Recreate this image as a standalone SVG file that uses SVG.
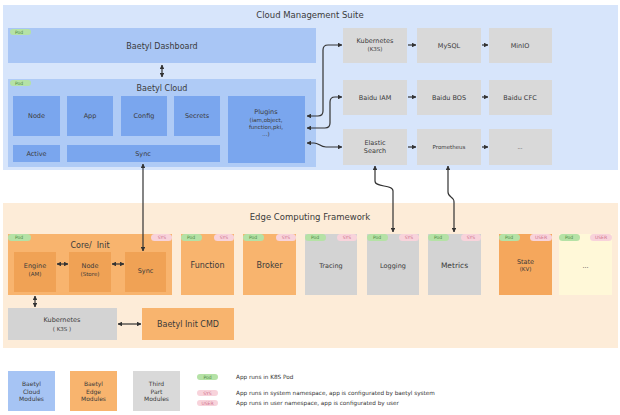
<svg xmlns="http://www.w3.org/2000/svg" width="620" height="415" viewBox="0 0 620 415">
<defs>
<marker id="ah" viewBox="0 0 10 10" refX="9" refY="5" markerWidth="4" markerHeight="4" orient="auto-start-reverse">
<path d="M0,0 L10,5 L0,10 z" fill="#333"/>
</marker>
<style>
text{font-family:"DejaVu Sans","Liberation Sans",sans-serif;fill:#3a3a3a;text-anchor:middle}
.t{font-size:8px}
.s{font-size:6.5px}
.xs{font-size:5.5px}
.cbg{fill:#d7e5fb}
.ebg{fill:#fdecd8}
.dash{fill:#a9c6f5}
.cm{fill:#7aa6ee}
.gr{fill:#d9d9d9}
.gr2{fill:#d3d3d3}
.or{fill:#f8b46e}
.or2{fill:#f0a255}
.or3{fill:#f5a75c}
.yl{fill:#fff8d8}
.pod{fill:#b5e2a6}
.sys{fill:#f8d3db}
.tp{font-size:4.5px;fill:#4f8a45}
.ts{font-size:4.5px;fill:#d0708a}
.c{fill:none;stroke:#333;stroke-width:1.2}
.lg{font-size:5.7px;text-anchor:start;fill:#333}
</style>
</defs>

<g id="cloud-suite">
<rect class="cbg" x="3" y="5" width="615" height="165"/>
<text class="t" x="310" y="18" style="font-size:8.5px">Cloud Management Suite</text>
</g>
<g id="edge-framework">
<rect class="ebg" x="3" y="203" width="615" height="145"/>
<text class="t" x="310" y="220" style="font-size:8.5px">Edge Computing Framework</text>
</g>

<g id="baetyl-dashboard">
<rect class="dash" x="8" y="28" width="308" height="35"/>
<rect class="pod" x="10" y="29" width="21" height="6" rx="3"/>
<text class="tp" x="19" y="33.8">Pod</text>
<text class="t" x="162" y="49">Baetyl Dashboard</text>
</g>

<g id="baetyl-cloud">
<rect class="dash" x="8" y="79" width="308" height="88" style="fill:#afcbf6"/>
<rect class="pod" x="10" y="80" width="21" height="6" rx="3"/>
<text class="tp" x="19" y="84.8">Pod</text>
<text class="t" x="162" y="91">Baetyl Cloud</text>
</g>
<g id="cloud-node"><rect class="cm" x="13" y="96" width="47" height="40"/><text class="s" x="36.5" y="118">Node</text></g>
<g id="cloud-app"><rect class="cm" x="67" y="96" width="46" height="40"/><text class="s" x="90" y="118">App</text></g>
<g id="cloud-config"><rect class="cm" x="121" y="96" width="46" height="40"/><text class="s" x="144" y="118">Config</text></g>
<g id="cloud-secrets"><rect class="cm" x="174" y="96" width="46" height="40"/><text class="s" x="197" y="118">Secrets</text></g>
<g id="cloud-active"><rect class="cm" x="13" y="145" width="47" height="17"/><text class="s" x="36.5" y="156">Active</text></g>
<g id="cloud-sync"><rect class="cm" x="67" y="145" width="153" height="17"/><text class="s" x="143" y="156">Sync</text></g>
<g id="cloud-plugins"><rect class="cm" x="228" y="96" width="77" height="67"/>
<text class="s" x="266" y="114">Plugins</text>
<text class="xs" x="266" y="122">(iam,object,</text>
<text class="xs" x="266" y="129">function,pki,</text>
<text class="xs" x="266" y="136">...)</text></g>

<g id="kubernetes-k3s"><rect class="gr" x="343" y="28" width="64" height="35"/><text class="s" x="375" y="43">Kubernetes</text><text class="xs" x="375" y="51">(K3S)</text></g>
<g id="mysql"><rect class="gr" x="417" y="28" width="64" height="35"/><text class="s" x="449" y="48">MySQL</text></g>
<g id="minio"><rect class="gr" x="489" y="28" width="63" height="35"/><text class="s" x="520" y="48">MinIO</text></g>
<g id="baidu-iam"><rect class="gr" x="343" y="80" width="64" height="35"/><text class="s" x="375" y="100">Baidu IAM</text></g>
<g id="baidu-bos"><rect class="gr" x="417" y="80" width="64" height="35"/><text class="s" x="449" y="100">Baidu BOS</text></g>
<g id="baidu-cfc"><rect class="gr" x="489" y="80" width="63" height="35"/><text class="s" x="520" y="100">Baidu CFC</text></g>
<g id="elastic-search"><rect class="gr" x="343" y="129" width="64" height="36"/><text class="s" x="375" y="145">Elastic</text><text class="s" x="375" y="153">Search</text></g>
<g id="prometheus"><rect class="gr" x="417" y="129" width="64" height="36"/><text class="xs" x="449" y="149">Prometheus</text></g>
<g id="cloud-more"><rect class="gr" x="489" y="129" width="63" height="36"/><text class="xs" x="520" y="149">...</text></g>

<g id="core-init">
<rect class="or" x="8" y="234" width="164" height="61"/>
<rect class="pod" x="8" y="234" width="23" height="7" rx="3.5"/><text class="tp" x="19" y="239.3">Pod</text>
<rect class="sys" x="151" y="234" width="21" height="7" rx="3.5"/><text class="ts" x="162" y="239.3">SYS</text>
<text class="t" x="90" y="248" style="white-space:pre">Core/  Init</text>
</g>
<g id="engine"><rect class="or2" x="14" y="252" width="42" height="40"/><text class="s" x="35" y="268">Engine</text><text class="xs" x="35" y="276">(AM)</text></g>
<g id="node-store"><rect class="or2" x="69" y="252" width="42" height="40"/><text class="s" x="90" y="268">Node</text><text class="xs" x="90" y="276">(Store)</text></g>
<g id="edge-sync"><rect class="or2" x="125" y="252" width="41" height="40"/><text class="s" x="145.5" y="273">Sync</text></g>

<g id="function"><rect class="or" x="181" y="234" width="53" height="61"/>
<rect class="pod" x="181" y="234" width="21" height="7" rx="3.5"/><text class="tp" x="191" y="239.3">Pod</text>
<rect class="sys" x="214" y="234" width="20" height="7" rx="3.5"/><text class="ts" x="224" y="239.3">SYS</text>
<text class="t" x="207.5" y="268">Function</text></g>
<g id="broker"><rect class="or" x="243" y="234" width="53" height="61"/>
<rect class="pod" x="243" y="234" width="21" height="7" rx="3.5"/><text class="tp" x="253" y="239.3">Pod</text>
<rect class="sys" x="276" y="234" width="20" height="7" rx="3.5"/><text class="ts" x="286" y="239.3">SYS</text>
<text class="t" x="269.5" y="268">Broker</text></g>
<g id="tracing"><rect class="gr2" x="305" y="234" width="52" height="61"/>
<rect class="pod" x="305" y="234" width="21" height="7" rx="3.5"/><text class="tp" x="315" y="239.3">Pod</text>
<rect class="sys" x="337" y="234" width="20" height="7" rx="3.5"/><text class="ts" x="347" y="239.3">SYS</text>
<text class="s" x="331" y="268">Tracing</text></g>
<g id="logging"><rect class="gr2" x="367" y="234" width="52" height="61"/>
<rect class="pod" x="367" y="234" width="21" height="7" rx="3.5"/><text class="tp" x="377" y="239.3">Pod</text>
<rect class="sys" x="399" y="234" width="20" height="7" rx="3.5"/><text class="ts" x="409" y="239.3">SYS</text>
<text class="s" x="393" y="268">Logging</text></g>
<g id="metrics"><rect class="gr2" x="428" y="234" width="53" height="61"/>
<rect class="pod" x="428" y="234" width="21" height="7" rx="3.5"/><text class="tp" x="438" y="239.3">Pod</text>
<rect class="sys" x="461" y="234" width="20" height="7" rx="3.5"/><text class="ts" x="471" y="239.3">SYS</text>
<text class="t" x="454.5" y="268" style="font-size:7.5px">Metrics</text></g>
<g id="state"><rect class="or3" x="499" y="234" width="53" height="61"/>
<rect class="pod" x="499" y="234" width="21" height="7" rx="3.5"/><text class="tp" x="509" y="239.3">Pod</text>
<rect class="sys" x="530" y="234" width="22" height="7" rx="3.5"/><text class="ts" x="541" y="239.3">USER</text>
<text class="s" x="525.5" y="264">State</text><text class="xs" x="525.5" y="271">(KV)</text></g>
<g id="edge-more"><rect class="yl" x="559" y="234" width="53" height="61"/>
<rect class="pod" x="559" y="234" width="21" height="7" rx="3.5"/><text class="tp" x="569" y="239.3">Pod</text>
<rect class="sys" x="590" y="234" width="22" height="7" rx="3.5"/><text class="ts" x="601" y="239.3">USER</text>
<text class="s" x="585.5" y="268">...</text></g>

<g id="edge-kubernetes"><rect class="gr2" x="8" y="308" width="109" height="32"/><text class="s" x="62" y="322">Kubernetes</text><text class="xs" x="62" y="331">( K3S )</text></g>
<g id="baetyl-init-cmd"><rect class="or" x="142" y="308" width="92" height="32"/><text class="t" x="188" y="327">Baetyl Init CMD</text></g>

<g id="connectors">
<path class="c" d="M162,65 V77" marker-start="url(#ah)" marker-end="url(#ah)"/>
<path class="c" d="M143,164 V251" marker-start="url(#ah)" marker-end="url(#ah)"/>
<path class="c" d="M307,116 H318 Q323,116 323,111 V50 Q323,45 328,45 H342" marker-start="url(#ah)" marker-end="url(#ah)"/>
<path class="c" d="M307,128 H325 Q330,128 330,123 V102 Q330,97 335,97 H342" marker-start="url(#ah)" marker-end="url(#ah)"/>
<path class="c" d="M307,143 H314 C319,143 320,147 326,147 H342" marker-start="url(#ah)" marker-end="url(#ah)"/>
<path class="c" d="M408,45 H416" marker-end="url(#ah)"/>
<path class="c" d="M482,45 H488" marker-end="url(#ah)"/>
<path class="c" d="M408,97 H416" marker-end="url(#ah)"/>
<path class="c" d="M482,97 H488" marker-end="url(#ah)"/>
<path class="c" d="M408,147 H416" marker-end="url(#ah)"/>
<path class="c" d="M482,147 H488" marker-end="url(#ah)"/>
<path class="c" d="M375,166 V181 C375,188 393,184 393,191 V232" marker-start="url(#ah)" marker-end="url(#ah)"/>
<path class="c" d="M448,166 V192 C448,198 454,196 454,202 V232" marker-start="url(#ah)" marker-end="url(#ah)"/>
<path class="c" d="M57,264 H68" marker-start="url(#ah)" marker-end="url(#ah)"/>
<path class="c" d="M112,264 H124" marker-start="url(#ah)" marker-end="url(#ah)"/>
<path class="c" d="M35,296 V307" marker-start="url(#ah)" marker-end="url(#ah)"/>
<path class="c" d="M118,324 H141" marker-start="url(#ah)" marker-end="url(#ah)"/>
</g>

<g id="legend">
<rect class="dash" x="8" y="371" width="47" height="40" style="fill:#a6c4f4"/>
<text class="xs" x="31.5" y="386" style="font-size:6px">Baetyl</text><text class="xs" x="31.5" y="393.5" style="font-size:6px">Cloud</text><text class="xs" x="31.5" y="401" style="font-size:6px">Modules</text>
<rect class="or" x="70" y="371" width="47" height="40"/>
<text class="xs" x="93.5" y="386" style="font-size:6px">Baetyl</text><text class="xs" x="93.5" y="393.5" style="font-size:6px">Edge</text><text class="xs" x="93.5" y="401" style="font-size:6px">Modules</text>
<rect class="gr" x="133" y="371" width="47" height="40"/>
<text class="xs" x="156.5" y="386" style="font-size:6px">Third</text><text class="xs" x="156.5" y="393.5" style="font-size:6px">Part</text><text class="xs" x="156.5" y="401" style="font-size:6px">Modules</text>
<rect class="pod" x="197" y="374" width="21" height="6" rx="3"/><text class="tp" x="207.5" y="378.7">Pod</text>
<text class="lg" x="236" y="379">App runs in K8S Pod</text>
<rect class="sys" x="197" y="390" width="21" height="6" rx="3"/><text class="ts" x="207.5" y="394.7">SYS</text>
<text class="lg" x="236" y="395">App runs in system namespace, app is configurated by baetyl system</text>
<rect class="sys" x="197" y="400" width="21" height="6" rx="3"/><text class="ts" x="207.5" y="404.7">USER</text>
<text class="lg" x="236" y="405">App runs in user namespace, app is configurated by user</text>
</g>
</svg>
